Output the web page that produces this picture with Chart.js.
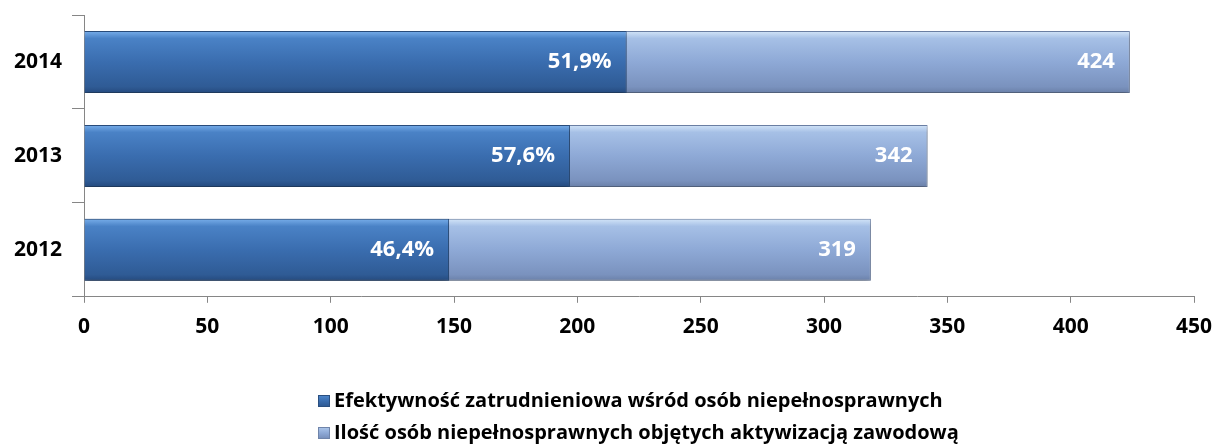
<!DOCTYPE html>
<html>
<head>
<meta charset="utf-8">
<script src="https://cdn.jsdelivr.net/npm/chart.js@4.4.0/dist/chart.umd.min.js"></script>
<style>
  html, body { margin: 0; padding: 0; background: #fff; }
  #wrap { width: 1216px; height: 444px; }
</style>
</head>
<body>
<div id="wrap"><canvas id="chart"></canvas></div>
<script>
// values
const years = ['2014', '2013', '2012'];
const employed = [220, 197, 148];
const employedLabels = ['51,9%', '57,6%', '46,4%'];
const activated = [424, 342, 319];
const xTicks = [0, 50, 100, 150, 200, 250, 300, 350, 400, 450];

const FONT = '"Open Sans", "Liberation Sans", sans-serif';
const BAR_PCT = 0.66;

function fillGradient(c, top, h, light) {
    const g = c.createLinearGradient(0, top, 0, top + h);
    if (light) {
        g.addColorStop(0, '#d3e5f8');
        g.addColorStop(0.12, '#a6c0e6');
        g.addColorStop(0.5, '#8ea9d6');
        g.addColorStop(0.9, '#7a92be');
        g.addColorStop(1, '#6a80a8');
    } else {
        g.addColorStop(0, '#78aeea');
        g.addColorStop(0.12, '#4a82c6');
        g.addColorStop(0.5, '#3a6daf');
        g.addColorStop(0.9, '#2f5b95');
        g.addColorStop(1, '#254a7e');
    }
    return g;
}

function barGradient(ctx, light) {
    const chart = ctx.chart;
    const area = chart.chartArea;
    const yScale = chart.scales.y;
    const flat = light ? '#8ea9d6' : '#3a6daf';
    if (!area || !yScale) return flat;
    const cy = yScale.getPixelForValue(ctx.dataIndex);
    const h = (area.bottom - area.top) / years.length * BAR_PCT;
    const top = cy - h / 2;
    if (!Number.isFinite(top) || !Number.isFinite(h)) return flat;
    return fillGradient(chart.ctx, top, h, light);
}

// soft shadow under the bars
const shadowPlugin = {
    id: 'shadow',
    beforeDatasetsDraw(chart) {
        const c = chart.ctx;
        c.save();
        c.shadowColor = 'rgba(0,0,0,0.35)';
        c.shadowBlur = 6;
        c.shadowOffsetY = 3;
    },
    afterDatasetsDraw(chart) {
        chart.ctx.restore();
    }
};

// white labels at the end of each bar
const valueLabels = {
    id: 'valueLabels',
    afterDatasetsDraw(chart) {
        const c = chart.ctx;
        c.save();
        c.font = 'bold 22px ' + FONT;
        c.fillStyle = '#ffffff';
        c.textAlign = 'right';
        c.textBaseline = 'middle';
        chart.getDatasetMeta(0).data.forEach((el, i) => {
            c.fillText(employedLabels[i], el.x - 15, el.y);
        });
        chart.getDatasetMeta(1).data.forEach((el, i) => {
            c.fillText(String(activated[i]), el.x - 15, el.y);
        });
        c.restore();
    }
};

// legend: two left-aligned rows under the axis
const bottomLegend = {
    id: 'bottomLegend',
    afterDraw(chart) {
        const c = chart.ctx;
        const x0 = 318, rows = [401, 433];
        c.save();
        c.font = 'bold 20px ' + FONT;
        c.textBaseline = 'middle';
        c.textAlign = 'left';
        chart.data.datasets.forEach((ds, i) => {
            const y = rows[i];
            c.fillStyle = fillGradient(c, y - 6, 12, i === 1);
            c.fillRect(x0, y - 6, 12, 12);
            c.strokeStyle = i === 1 ? '#6f84aa' : '#2a4f80';
            c.lineWidth = 1;
            c.strokeRect(x0 + 0.5, y - 5.5, 11, 11);
            c.fillStyle = '#000';
            c.fillText(ds.label, x0 + 16, y);
        });
        c.restore();
    }
};

new Chart(document.getElementById('chart'), {
    type: 'bar',
    data: {
        labels: years,
        datasets: [
            {
                label: 'Efektywność zatrudnieniowa wśród osób niepełnosprawnych',
                data: employed,
                backgroundColor: ctx => barGradient(ctx, false),
                borderColor: '#2a4f80',
                borderWidth: 1,
                grouped: false,
                categoryPercentage: BAR_PCT,
                barPercentage: 1
            },
            {
                label: 'Ilość osób niepełnosprawnych objętych aktywizacją zawodową',
                data: activated,
                backgroundColor: ctx => barGradient(ctx, true),
                borderColor: '#6f84aa',
                borderWidth: 1,
                grouped: false,
                categoryPercentage: BAR_PCT,
                barPercentage: 1
            }
        ]
    },
    options: {
        indexAxis: 'y',
        responsive: true,
        maintainAspectRatio: false,
        animation: false,
        layout: { padding: { top: 15, right: 22, left: 4, bottom: 92 } },
        scales: {
            x: {
                min: 0,
                max: 450,
                afterBuildTicks: axis => { axis.ticks = xTicks.map(v => ({ value: v })); },
                afterFit: s => { s.paddingLeft = 0; s.paddingRight = 0; },
                grid: { drawOnChartArea: false, color: '#868686', tickLength: 6 },
                border: { color: '#868686', width: 1 },
                ticks: {
                    color: '#000',
                    font: { family: FONT, size: 21, weight: 'bold' },
                    padding: 12
                }
            },
            y: {
                afterFit: s => { s.paddingTop = 0; s.paddingBottom = 0; },
                grid: { drawOnChartArea: false, color: '#868686', tickLength: 12, offset: true },
                border: { color: '#868686', width: 1 },
                ticks: {
                    color: '#000',
                    font: { family: FONT, size: 21, weight: 'bold' },
                    padding: 10
                }
            }
        },
        plugins: {
            tooltip: { enabled: false },
            legend: { display: false }
        }
    },
    plugins: [shadowPlugin, valueLabels, bottomLegend]
});
</script>
</body>
</html>
